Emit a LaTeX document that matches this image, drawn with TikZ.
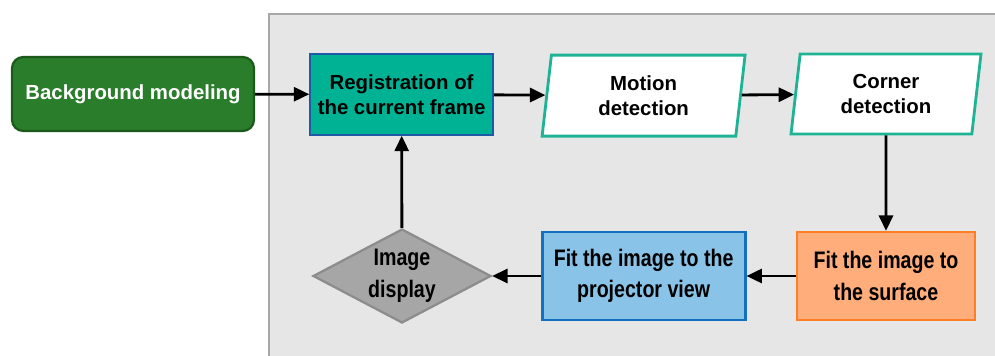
\documentclass[tikz,border=0pt]{standalone}
\usepackage{fontspec}
\setmainfont{Liberation Sans}
\newfontfamily\narrowfont[FakeStretch=0.82]{Liberation Sans}
\usetikzlibrary{arrows.meta,positioning,shapes.geometric}
\definecolor{panelgray}{HTML}{E6E6E6}
\definecolor{paneledge}{HTML}{A8A8A8}
\definecolor{bggreen}{HTML}{2A7D2A}
\definecolor{bgedge}{HTML}{1C5A1C}
\definecolor{regteal}{HTML}{00B294}
\definecolor{regedge}{HTML}{1F5AA6}
\definecolor{detteal}{HTML}{1DB394}
\definecolor{surforange}{HTML}{FFAD7A}
\definecolor{surfedge}{HTML}{FF7F27}
\definecolor{projblue}{HTML}{8AC3E8}
\definecolor{projedge}{HTML}{1370BE}
\definecolor{dispgray}{HTML}{A6A6A6}
\definecolor{dispedge}{HTML}{8C8C8C}
\tikzset{flowbox/.style={draw,line width=1.6pt,align=center,inner sep=0pt,font=\fontsize{14.5}{18}\selectfont\bfseries},flownarrow/.style={flowbox,font=\narrowfont\fontsize{17}{22.5}\selectfont\bfseries},flowskew/.style={flowbox,draw=detteal,fill=white,line width=2pt,trapezium,trapezium left angle=77,trapezium right angle=103,trapezium stretches body},flowarr/.style={-{Triangle[length=11pt,width=10pt]},line width=2pt,draw=black}}

\begin{document}
\begin{tikzpicture}
\useasboundingbox (0,0) rectangle (24.875,-8.9);
\fill[panelgray,draw=paneledge,line width=2pt] (6.725,-0.35) rectangle (25.3,-9.4);
\node[flowbox,rounded corners=8pt,fill=bggreen,draw=bgedge,text=white,minimum width=6.05cm,minimum height=1.85cm] (bg) at (3.325,-2.35) {Background modeling};
\node[flowbox,fill=regteal,draw=regedge,line width=1.2pt,minimum width=4.575cm,minimum height=2.025cm] (reg) at (10.04,-2.36) {Registration of\\the current frame};
\node[flowskew,minimum width=5.075cm,minimum height=2.025cm] (motion) at (16.09,-2.39) {Motion\\detection};
\node[flowskew,minimum width=4.75cm,minimum height=2cm] (corner) at (22.15,-2.35) {Corner\\detection};
\node[flownarrow,fill=surforange,draw=surfedge,minimum width=4.45cm,minimum height=2.2cm] (surf) at (22.15,-6.9) {Fit the image to\\the surface};
\node[flownarrow,fill=projblue,draw=projedge,line width=2pt,minimum width=5.075cm,minimum height=2.2cm] (proj) at (16.09,-6.9) {Fit the image to the\\projector view};
\node[flownarrow,diamond,aspect=1.9,fill=dispgray,draw=dispedge,minimum width=4.45cm,minimum height=2.35cm] (disp) at (10.05,-6.9) {Image\\display};
\draw[flowarr] (bg)--(reg);
\draw[flowarr] (reg)--(motion);
\draw[flowarr] (motion)--(corner);
\draw[flowarr] (corner)--(surf);
\draw[flowarr] (surf)--(proj);
\draw[flowarr] (proj)--(disp);
\draw[flowarr] (disp)--(reg);
\end{tikzpicture}
\end{document}
